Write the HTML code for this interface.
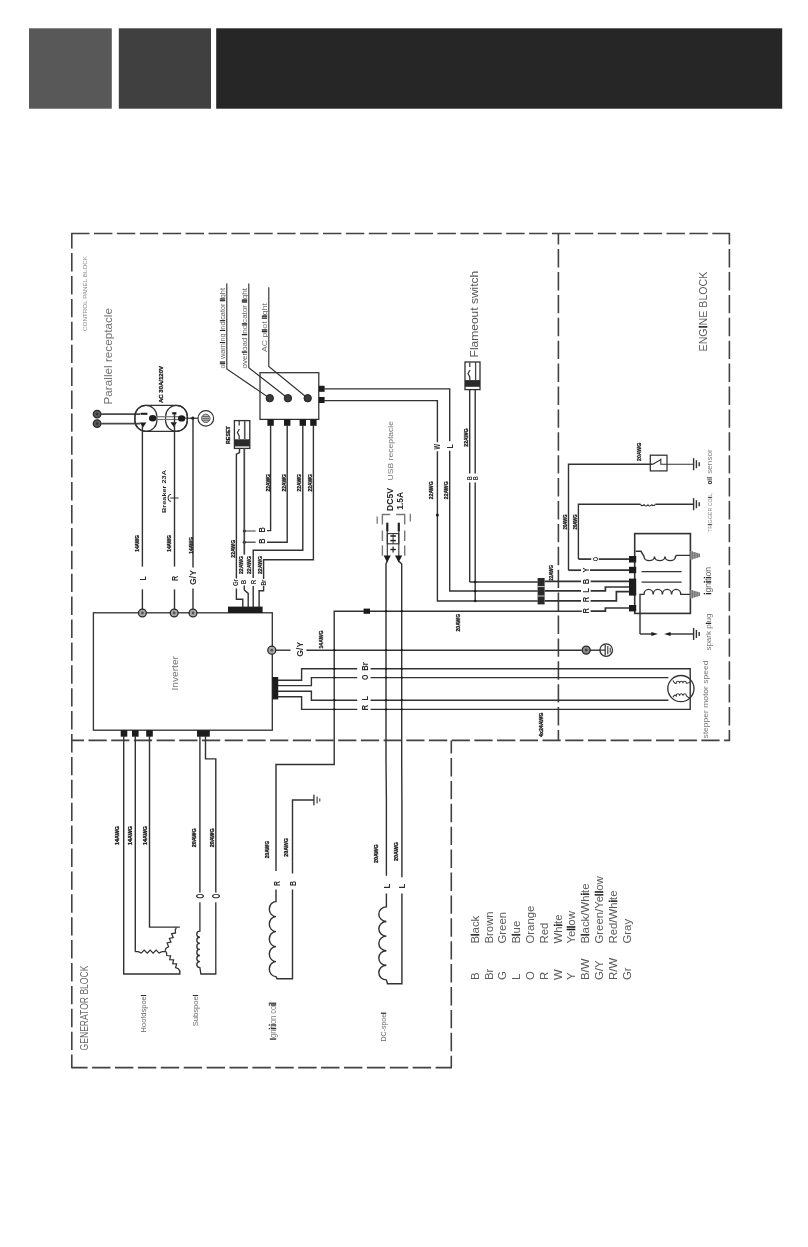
<!DOCTYPE html>
<html><head><meta charset="utf-8"><title>Wiring diagram</title>
<style>
html,body{margin:0;padding:0;background:#fff}
body{width:808px;height:1247px;overflow:hidden;font-family:"Liberation Sans",sans-serif}
svg{display:block;font-family:"Liberation Sans",sans-serif}
</style></head><body>
<svg width="808" height="1247" viewBox="0 0 808 1247">
<defs><filter id="bl" x="0" y="0" width="808" height="1247" filterUnits="userSpaceOnUse"><feGaussianBlur stdDeviation="0.5"/></filter></defs>
<rect width="808" height="1247" fill="#ffffff"/>
<rect x="29.0" y="28.3" width="82.8" height="80.4" fill="#585858"/>
<rect x="118.8" y="28.3" width="92.2" height="80.4" fill="#404040"/>
<rect x="216.2" y="28.3" width="566.0" height="80.4" fill="#262626"/>
<g filter="url(#bl)">
<polyline points="71.1,233.5 730.1,233.5" fill="none" stroke="#424242" stroke-width="1.6" stroke-dasharray="18.4 4.5" stroke-dashoffset="0"/>
<polyline points="71.8,233.5 71.8,1068.3" fill="none" stroke="#424242" stroke-width="1.6" stroke-dasharray="18.4 4.5" stroke-dashoffset="3.3"/>
<polyline points="71.8,740.4 730.1,740.4" fill="none" stroke="#424242" stroke-width="1.6" stroke-dasharray="18.2 4.5" stroke-dashoffset="6"/>
<polyline points="71.8,1067.6 452.0,1067.6" fill="none" stroke="#424242" stroke-width="1.6" stroke-dasharray="18.4 4.5" stroke-dashoffset="2.6"/>
<polyline points="451.3,740.4 451.3,1067.6" fill="none" stroke="#424242" stroke-width="1.6" stroke-dasharray="18.4 4.5" stroke-dashoffset="5.3"/>
<polyline points="558.4,233.5 558.4,740.4" fill="none" stroke="#424242" stroke-width="1.6" stroke-dasharray="18.4 4.5" stroke-dashoffset="7.3"/>
<polyline points="729.4,233.5 729.4,740.4" fill="none" stroke="#424242" stroke-width="1.6" stroke-dasharray="18.4 4.5" stroke-dashoffset="7.3"/>
<text transform="translate(87.0,331.0) rotate(-90)" font-size="4.6" fill="#8a8a8a" textLength="75.0" lengthAdjust="spacingAndGlyphs" text-anchor="start">CONTROL PANEL BLOCK</text>
<text transform="translate(112.3,404.5) rotate(-90)" font-size="10.6" fill="#707070" textLength="96.5" lengthAdjust="spacingAndGlyphs" text-anchor="start">Parallel receptacle</text>
<text transform="translate(478.0,357.4) rotate(-90)" font-size="11" fill="#555" textLength="86.6" lengthAdjust="spacingAndGlyphs" text-anchor="start">Flameout switch</text>
<text transform="translate(707.3,351.4) rotate(-90)" font-size="10" fill="#5c5c5c" textLength="79.8" lengthAdjust="spacingAndGlyphs" text-anchor="start">ENG<tspan fill="#151515" stroke="#151515" stroke-width="0.5">I</tspan>NE BLOCK</text>
<text transform="translate(88.4,1050.4) rotate(-90)" font-size="10.2" fill="#666" textLength="84.8" lengthAdjust="spacingAndGlyphs" text-anchor="start">GENERATOR BLOCK</text>
<text transform="translate(177.5,690.6) rotate(-90)" font-size="9.6" fill="#777" textLength="34.6" lengthAdjust="spacingAndGlyphs" text-anchor="start">Inverter</text>
<circle cx="97.1" cy="414.1" r="3.8" fill="#5a5a5a" stroke="#2a2a2a" stroke-width="1.3"/>
<circle cx="97.1" cy="414.1" r="1.3" fill="#333" stroke="none" stroke-width="0"/>
<circle cx="97.1" cy="423.6" r="3.8" fill="#5a5a5a" stroke="#2a2a2a" stroke-width="1.3"/>
<circle cx="97.1" cy="423.6" r="1.3" fill="#333" stroke="none" stroke-width="0"/>
<line x1="100.5" y1="414.1" x2="140.0" y2="414.1" stroke="#4a4a4a" stroke-width="1.8" />
<line x1="100.5" y1="423.6" x2="140.0" y2="423.6" stroke="#4a4a4a" stroke-width="1.8" />
<rect x="134.9" y="405.4" width="52.4" height="26.0" rx="11" fill="none" stroke="#303030" stroke-width="1.2"/>
<rect x="134.9" y="405.4" width="22.0" height="26.0" rx="11" fill="none" stroke="#303030" stroke-width="1.2"/>
<rect x="165.6" y="405.4" width="21.7" height="26.0" rx="11" fill="none" stroke="#303030" stroke-width="1.2"/>
<line x1="152.0" y1="416.7" x2="182.0" y2="416.7" stroke="#777" stroke-width="1.2" />
<line x1="152.0" y1="419.5" x2="182.0" y2="419.5" stroke="#777" stroke-width="1.2" />
<rect x="140.5" y="412.8" width="6.9" height="2.0" fill="#1c1c1c"/>
<ellipse cx="152.6" cy="418.2" rx="3.6" ry="3.2" fill="#1c1c1c"/>
<polygon points="139.6,422.6 146.4,422.6 143,427.6" fill="#1c1c1c"/>
<rect x="172.2" y="412.2" width="4.2" height="2.2" fill="#1c1c1c"/>
<ellipse cx="181.6" cy="418.4" rx="3.6" ry="3.2" fill="#1c1c1c"/>
<polygon points="170.4,422.2 177,422.2 173.8,427" fill="#1c1c1c"/>
<line x1="185.0" y1="418.2" x2="198.0" y2="418.2" stroke="#303030" stroke-width="1.2" />
<circle cx="192.8" cy="418.2" r="1.6" fill="#1c1c1c" stroke="none" stroke-width="0"/>
<circle cx="205.8" cy="418.4" r="7.8" fill="none" stroke="#303030" stroke-width="1.2"/>
<circle cx="205.8" cy="418.4" r="4.2" fill="#bbb" stroke="#555" stroke-width="1"/>
<line x1="202.5" y1="416.5" x2="209.0" y2="416.5" stroke="#444" stroke-width="0.7" />
<line x1="202.5" y1="418.4" x2="209.0" y2="418.4" stroke="#444" stroke-width="0.7" />
<line x1="202.5" y1="420.3" x2="209.0" y2="420.3" stroke="#444" stroke-width="0.7" />
<text transform="translate(162.8,403.0) rotate(-90)" font-size="5.4" fill="#222" font-weight="700" textLength="37.0" lengthAdjust="spacingAndGlyphs" stroke="#222" stroke-width="0.3" text-anchor="start">AC 30A/120V</text>
<text transform="translate(166.4,513.0) rotate(-90)" font-size="6" fill="#222" font-weight="700" textLength="43.0" lengthAdjust="spacingAndGlyphs" text-anchor="start">Breaker 23A</text>
<line x1="142.4" y1="426.0" x2="142.4" y2="566.6" stroke="#303030" stroke-width="1.4" />
<line x1="142.4" y1="589.4" x2="142.4" y2="609.5" stroke="#303030" stroke-width="1.4" />
<line x1="174.5" y1="414.0" x2="174.5" y2="566.6" stroke="#303030" stroke-width="1.4" />
<line x1="174.5" y1="589.4" x2="174.5" y2="609.5" stroke="#303030" stroke-width="1.4" />
<line x1="193.0" y1="418.2" x2="193.0" y2="567.6" stroke="#303030" stroke-width="1.4" />
<line x1="193.0" y1="588.4" x2="193.0" y2="609.5" stroke="#303030" stroke-width="1.4" />
<path d="M171.2,501.5 a3.2,3.6 0 0 1 0,-7.2" fill="none" stroke="#2a2a2a" stroke-width="1"/>
<line x1="170.2" y1="498.0" x2="178.5" y2="498.0" stroke="#303030" stroke-width="1" />
<text transform="translate(139.2,551.7) rotate(-90)" font-size="4.9" fill="#222" font-weight="700" textLength="16.7" lengthAdjust="spacingAndGlyphs" stroke="#222" stroke-width="0.3" text-anchor="start">14AWG</text>
<text transform="translate(170.9,551.7) rotate(-90)" font-size="4.9" fill="#222" font-weight="700" textLength="16.7" lengthAdjust="spacingAndGlyphs" stroke="#222" stroke-width="0.3" text-anchor="start">14AWG</text>
<text transform="translate(193.2,553.7) rotate(-90)" font-size="4.9" fill="#222" font-weight="700" textLength="16.8" lengthAdjust="spacingAndGlyphs" stroke="#222" stroke-width="0.3" text-anchor="start">14AWG</text>
<text transform="translate(145.8,578.5) rotate(-90) scale(0.8,1)" font-size="8.6" fill="#2e2e2e" font-weight="700" text-anchor="middle">L</text>
<text transform="translate(177.8,578.5) rotate(-90) scale(0.8,1)" font-size="9" fill="#2e2e2e" font-weight="700" text-anchor="middle">R</text>
<text transform="translate(196.3,577.5) rotate(-90) scale(0.9,1)" font-size="9.6" fill="#2e2e2e" font-weight="700" text-anchor="middle">G/Y</text>
<rect x="93.4" y="612.8" width="178.9" height="117.4" rx="0" fill="none" stroke="#303030" stroke-width="1.3"/>
<circle cx="142.4" cy="613.0" r="3.9" fill="#a8a8a8" stroke="#2a2a2a" stroke-width="1.3"/>
<circle cx="142.4" cy="613.0" r="1.4" fill="#555" stroke="none" stroke-width="0"/>
<circle cx="174.2" cy="613.0" r="3.9" fill="#a8a8a8" stroke="#2a2a2a" stroke-width="1.3"/>
<circle cx="174.2" cy="613.0" r="1.4" fill="#555" stroke="none" stroke-width="0"/>
<circle cx="193.0" cy="613.0" r="3.9" fill="#a8a8a8" stroke="#2a2a2a" stroke-width="1.3"/>
<circle cx="193.0" cy="613.0" r="1.4" fill="#555" stroke="none" stroke-width="0"/>
<rect x="228.0" y="606.6" width="34.6" height="6.4" fill="#1c1c1c"/>
<rect x="120.7" y="730.2" width="6.6" height="6.5" fill="#1c1c1c"/>
<rect x="132.0" y="730.2" width="6.6" height="6.5" fill="#1c1c1c"/>
<rect x="146.2" y="730.2" width="6.6" height="6.5" fill="#1c1c1c"/>
<rect x="197.0" y="730.2" width="12.8" height="6.5" fill="#1c1c1c"/>
<circle cx="271.8" cy="650.2" r="4" fill="#a8a8a8" stroke="#2a2a2a" stroke-width="1.3"/>
<circle cx="271.8" cy="650.2" r="1.4" fill="#555" stroke="none" stroke-width="0"/>
<line x1="275.8" y1="650.2" x2="290.5" y2="650.2" stroke="#303030" stroke-width="1.4" />
<text transform="translate(302.6,649.2) rotate(-90) scale(0.9,1)" font-size="9.6" fill="#2e2e2e" font-weight="700" text-anchor="middle">G/Y</text>
<line x1="306.4" y1="650.2" x2="581.8" y2="650.2" stroke="#303030" stroke-width="1.4" />
<text transform="translate(323.4,648.5) rotate(-90)" font-size="4.9" fill="#222" font-weight="700" textLength="18.0" lengthAdjust="spacingAndGlyphs" stroke="#222" stroke-width="0.3" text-anchor="start">14AWG</text>
<rect x="272.3" y="677.0" width="5.9" height="22.4" fill="#1c1c1c"/>
<rect x="260.0" y="372.7" width="58.8" height="46.7" rx="0" fill="none" stroke="#303030" stroke-width="1.25"/>
<polyline points="226.8,283.6 226.8,369.0 269.8,398.2" fill="none" stroke="#303030" stroke-width="1.15" />
<circle cx="269.8" cy="398.2" r="3.7" fill="#3a3a3a" stroke="#222" stroke-width="1"/>
<polyline points="248.8,283.6 248.8,367.8 287.9,398.2" fill="none" stroke="#303030" stroke-width="1.15" />
<circle cx="287.9" cy="398.2" r="3.7" fill="#3a3a3a" stroke="#222" stroke-width="1"/>
<polyline points="268.8,287.3 268.8,366.5 307.7,398.2" fill="none" stroke="#303030" stroke-width="1.15" />
<circle cx="307.7" cy="398.2" r="3.7" fill="#3a3a3a" stroke="#222" stroke-width="1"/>
<text transform="translate(224.6,368.5) rotate(-90)" font-size="6.3" fill="#666" textLength="80.5" lengthAdjust="spacingAndGlyphs" text-anchor="start">o<tspan fill="#151515" stroke="#151515" stroke-width="0.315">i</tspan><tspan fill="#151515" stroke="#151515" stroke-width="0.315">l</tspan> warn<tspan fill="#151515" stroke="#151515" stroke-width="0.315">i</tspan>ng <tspan fill="#151515" stroke="#151515" stroke-width="0.315">i</tspan>nd<tspan fill="#151515" stroke="#151515" stroke-width="0.315">i</tspan>cator <tspan fill="#151515" stroke="#151515" stroke-width="0.315">l</tspan><tspan fill="#151515" stroke="#151515" stroke-width="0.315">i</tspan>ght</text>
<text transform="translate(246.8,368.5) rotate(-90)" font-size="6.6" fill="#666" textLength="80.5" lengthAdjust="spacingAndGlyphs" text-anchor="start">over<tspan fill="#151515" stroke="#151515" stroke-width="0.33">l</tspan>oad <tspan fill="#151515" stroke="#151515" stroke-width="0.33">i</tspan>nd<tspan fill="#151515" stroke="#151515" stroke-width="0.33">i</tspan>cator <tspan fill="#151515" stroke="#151515" stroke-width="0.33">l</tspan><tspan fill="#151515" stroke="#151515" stroke-width="0.33">i</tspan>ght</text>
<text transform="translate(266.6,352.0) rotate(-90)" font-size="6.8" fill="#707070" textLength="49.0" lengthAdjust="spacingAndGlyphs" text-anchor="start">AC p<tspan fill="#151515" stroke="#151515" stroke-width="0.34">i</tspan><tspan fill="#151515" stroke="#151515" stroke-width="0.34">l</tspan>ot <tspan fill="#151515" stroke="#151515" stroke-width="0.34">l</tspan><tspan fill="#151515" stroke="#151515" stroke-width="0.34">i</tspan>ght</text>
<rect x="318.8" y="385.8" width="5.8" height="6.0" fill="#1c1c1c"/>
<rect x="318.8" y="397.0" width="5.8" height="6.0" fill="#1c1c1c"/>
<rect x="267.4" y="419.4" width="6.4" height="6.4" fill="#1c1c1c"/>
<rect x="284.0" y="419.4" width="6.4" height="6.4" fill="#1c1c1c"/>
<rect x="299.6" y="419.4" width="6.4" height="6.4" fill="#1c1c1c"/>
<rect x="310.2" y="419.4" width="6.4" height="6.4" fill="#1c1c1c"/>
<polyline points="270.6,425.0 270.6,530.6 267.0,530.6" fill="none" stroke="#303030" stroke-width="1.4" />
<polyline points="287.2,425.0 287.2,542.2 267.0,542.2" fill="none" stroke="#303030" stroke-width="1.4" />
<polyline points="302.8,425.0 302.8,550.2 253.2,550.2 253.2,578.0" fill="none" stroke="#303030" stroke-width="1.4" />
<polyline points="313.4,425.0 313.4,559.7 263.6,559.7 263.6,579.0" fill="none" stroke="#303030" stroke-width="1.4" />
<text transform="translate(270.0,491.5) rotate(-90)" font-size="4.9" fill="#222" font-weight="700" textLength="17.5" lengthAdjust="spacingAndGlyphs" stroke="#222" stroke-width="0.3" text-anchor="start">22AWG</text>
<text transform="translate(286.0,491.5) rotate(-90)" font-size="4.9" fill="#222" font-weight="700" textLength="17.5" lengthAdjust="spacingAndGlyphs" stroke="#222" stroke-width="0.3" text-anchor="start">22AWG</text>
<text transform="translate(301.0,491.5) rotate(-90)" font-size="4.9" fill="#222" font-weight="700" textLength="17.5" lengthAdjust="spacingAndGlyphs" stroke="#222" stroke-width="0.3" text-anchor="start">22AWG</text>
<text transform="translate(312.0,491.5) rotate(-90)" font-size="4.9" fill="#222" font-weight="700" textLength="17.5" lengthAdjust="spacingAndGlyphs" stroke="#222" stroke-width="0.3" text-anchor="start">22AWG</text>
<line x1="244.3" y1="531.0" x2="255.6" y2="531.0" stroke="#666" stroke-width="1.3" />
<line x1="244.3" y1="542.2" x2="255.6" y2="542.2" stroke="#444" stroke-width="1.3" />
<circle cx="244.3" cy="531.0" r="1.5" fill="#1c1c1c" stroke="none" stroke-width="0"/>
<circle cx="244.3" cy="542.2" r="1.5" fill="#1c1c1c" stroke="none" stroke-width="0"/>
<text transform="translate(265.3,529.8) rotate(-90) scale(0.78,1)" font-size="9.4" fill="#2e2e2e" font-weight="700" text-anchor="middle">B</text>
<text transform="translate(265.3,541.2) rotate(-90) scale(0.78,1)" font-size="9.4" fill="#2e2e2e" font-weight="700" text-anchor="middle">B</text>
<rect x="234.4" y="420.6" width="15.4" height="27.8" rx="0" fill="none" stroke="#303030" stroke-width="1.3"/>
<rect x="234.4" y="439.3" width="15.4" height="7.1" fill="#2a2a2a"/>
<line x1="244.7" y1="420.6" x2="244.7" y2="439.3" stroke="#555" stroke-width="1.6" />
<line x1="239.2" y1="421.0" x2="239.2" y2="425.5" stroke="#303030" stroke-width="1.2" />
<polyline points="239.4,429.0 237.4,432.5 239.2,436.0 239.2,439.0" fill="none" stroke="#303030" stroke-width="1.2" />
<text transform="translate(230.0,444.0) rotate(-90)" font-size="5.3" fill="#222" font-weight="700" textLength="17.8" lengthAdjust="spacingAndGlyphs" stroke="#222" stroke-width="0.3" text-anchor="start">RESET</text>
<polyline points="239.5,448.4 239.5,452.6 236.4,454.2 236.4,578.5" fill="none" stroke="#303030" stroke-width="1.4" />
<line x1="244.3" y1="448.4" x2="244.3" y2="554.7" stroke="#444" stroke-width="1.7" />
<text transform="translate(235.0,557.7) rotate(-90)" font-size="4.9" fill="#222" font-weight="700" textLength="17.8" lengthAdjust="spacingAndGlyphs" stroke="#222" stroke-width="0.3" text-anchor="start">22AWG</text>
<text transform="translate(243.1,574.0) rotate(-90)" font-size="4.9" fill="#222" font-weight="700" textLength="18.0" lengthAdjust="spacingAndGlyphs" stroke="#222" stroke-width="0.3" text-anchor="start">22AWG</text>
<text transform="translate(250.5,574.0) rotate(-90)" font-size="4.9" fill="#222" font-weight="700" textLength="18.0" lengthAdjust="spacingAndGlyphs" stroke="#222" stroke-width="0.3" text-anchor="start">22AWG</text>
<text transform="translate(262.0,574.0) rotate(-90)" font-size="4.9" fill="#222" font-weight="700" textLength="18.0" lengthAdjust="spacingAndGlyphs" stroke="#222" stroke-width="0.3" text-anchor="start">22AWG</text>
<text transform="translate(238.2,582.6) rotate(-90) scale(0.9,1)" font-size="6.6" fill="#2e2e2e" font-weight="700" text-anchor="middle">Gr</text>
<text transform="translate(246.2,582.0) rotate(-90) scale(0.9,1)" font-size="6.8" fill="#2e2e2e" font-weight="700" text-anchor="middle">B</text>
<text transform="translate(255.6,582.0) rotate(-90) scale(0.9,1)" font-size="6.8" fill="#2e2e2e" font-weight="700" text-anchor="middle">R</text>
<text transform="translate(265.6,582.6) rotate(-90) scale(0.85,1)" font-size="6.4" fill="#2e2e2e" font-weight="700" text-anchor="middle">Br</text>
<polyline points="236.4,588.4 236.4,599.3 242.8,599.3 242.8,607.5" fill="none" stroke="#303030" stroke-width="1.4" />
<polyline points="244.3,585.6 244.3,590.0 248.2,593.4 248.2,607.5" fill="none" stroke="#303030" stroke-width="1.4" />
<line x1="253.2" y1="586.0" x2="253.2" y2="607.5" stroke="#303030" stroke-width="1.4" />
<polyline points="263.6,586.0 263.6,590.8 259.1,590.8 259.1,607.5" fill="none" stroke="#303030" stroke-width="1.4" />
<polyline points="324.0,400.6 437.4,400.6 437.4,442.3" fill="none" stroke="#303030" stroke-width="1.4" />
<polyline points="437.4,451.2 437.4,601.0 537.8,601.0" fill="none" stroke="#303030" stroke-width="1.4" />
<polyline points="324.0,388.9 449.7,388.9 449.7,441.3" fill="none" stroke="#303030" stroke-width="1.4" />
<polyline points="449.7,450.7 449.7,591.0 537.8,591.0" fill="none" stroke="#303030" stroke-width="1.4" />
<text transform="translate(440.3,446.8) rotate(-90) scale(0.66,1)" font-size="8.8" fill="#2e2e2e" font-weight="700" text-anchor="middle">W</text>
<text transform="translate(452.6,446.4) rotate(-90) scale(0.8,1)" font-size="8.8" fill="#2e2e2e" font-weight="700" text-anchor="middle">L</text>
<circle cx="437.4" cy="515.0" r="1.5" fill="#1c1c1c" stroke="none" stroke-width="0"/>
<text transform="translate(433.3,499.2) rotate(-90)" font-size="4.9" fill="#222" font-weight="700" textLength="17.8" lengthAdjust="spacingAndGlyphs" stroke="#222" stroke-width="0.3" text-anchor="start">22AWG</text>
<text transform="translate(448.1,499.2) rotate(-90)" font-size="4.9" fill="#222" font-weight="700" textLength="17.8" lengthAdjust="spacingAndGlyphs" stroke="#222" stroke-width="0.3" text-anchor="start">22AWG</text>
<rect x="465.0" y="362.0" width="15.0" height="27.6" rx="0" fill="none" stroke="#303030" stroke-width="1.3"/>
<rect x="465.0" y="380.1" width="15.0" height="6.7" fill="#2a2a2a"/>
<line x1="475.6" y1="362.0" x2="475.6" y2="380.0" stroke="#444" stroke-width="1.3" />
<line x1="469.8" y1="362.5" x2="469.8" y2="367.0" stroke="#303030" stroke-width="1.2" />
<polyline points="470.0,370.0 468.0,373.5 469.8,377.0 469.8,380.0" fill="none" stroke="#303030" stroke-width="1.2" />
<line x1="469.7" y1="389.6" x2="469.7" y2="473.4" stroke="#303030" stroke-width="1.4" />
<line x1="469.7" y1="482.6" x2="469.7" y2="582.0" stroke="#303030" stroke-width="1.4" />
<line x1="475.2" y1="389.6" x2="475.2" y2="473.4" stroke="#303030" stroke-width="1.4" />
<line x1="475.2" y1="482.6" x2="475.2" y2="601.0" stroke="#303030" stroke-width="1.4" />
<line x1="469.7" y1="582.0" x2="537.8" y2="582.0" stroke="#303030" stroke-width="1.4" />
<text transform="translate(468.4,446.7) rotate(-90)" font-size="4.9" fill="#222" font-weight="700" textLength="18.3" lengthAdjust="spacingAndGlyphs" stroke="#222" stroke-width="0.3" text-anchor="start">22AWG</text>
<text transform="translate(472.0,478.2) rotate(-90) scale(0.8,1)" font-size="6.6" fill="#2e2e2e" font-weight="700" text-anchor="middle">B</text>
<text transform="translate(478.2,478.2) rotate(-90) scale(0.8,1)" font-size="6.6" fill="#2e2e2e" font-weight="700" text-anchor="middle">B</text>
<circle cx="475.2" cy="582.0" r="1.25" fill="#1c1c1c" stroke="none" stroke-width="0"/>
<circle cx="475.2" cy="591.0" r="1.25" fill="#1c1c1c" stroke="none" stroke-width="0"/>
<circle cx="475.2" cy="601.0" r="1.25" fill="#1c1c1c" stroke="none" stroke-width="0"/>
<rect x="537.6" y="578.0" width="7.0" height="26.4" fill="#2a2a2a"/>
<line x1="537.6" y1="586.6" x2="544.6" y2="586.6" stroke="#ddd" stroke-width="0.9" />
<line x1="537.6" y1="596.0" x2="544.6" y2="596.0" stroke="#ddd" stroke-width="0.9" />
<text transform="translate(552.6,580.8) rotate(-90)" font-size="4.6" fill="#222" font-weight="700" textLength="15.8" lengthAdjust="spacingAndGlyphs" stroke="#222" stroke-width="0.3" text-anchor="start">22AWG</text>
<text transform="translate(393.0,480.4) rotate(-90)" font-size="7.4" fill="#777" textLength="59.4" lengthAdjust="spacingAndGlyphs" text-anchor="start">USB receptacle</text>
<text transform="translate(392.8,511.0) rotate(-90)" font-size="8.6" fill="#222" font-weight="700" textLength="23.0" lengthAdjust="spacingAndGlyphs" text-anchor="start">DC5V</text>
<text transform="translate(402.8,509.8) rotate(-90)" font-size="8.4" fill="#222" font-weight="700" textLength="17.8" lengthAdjust="spacingAndGlyphs" text-anchor="start">1.5A</text>
<polyline points="390.2,514.5 382.4,514.5 382.4,524.5" fill="none" stroke="#777" stroke-width="1.4" />
<polyline points="396.2,514.5 404.7,514.5 404.7,524.5" fill="none" stroke="#777" stroke-width="1.4" />
<line x1="382.4" y1="530.5" x2="382.4" y2="541.0" stroke="#777" stroke-width="1.4" />
<line x1="382.4" y1="545.4" x2="382.4" y2="555.7" stroke="#777" stroke-width="1.4" />
<line x1="404.7" y1="530.5" x2="404.7" y2="541.0" stroke="#777" stroke-width="1.4" />
<line x1="404.7" y1="545.4" x2="404.7" y2="555.7" stroke="#777" stroke-width="1.4" />
<line x1="377.2" y1="516.4" x2="377.2" y2="523.8" stroke="#777" stroke-width="1.3" />
<line x1="410.3" y1="513.8" x2="410.3" y2="521.6" stroke="#777" stroke-width="1.3" />
<line x1="387.3" y1="522.7" x2="387.3" y2="531.4" stroke="#222" stroke-width="2.2" />
<line x1="398.8" y1="522.7" x2="398.8" y2="531.4" stroke="#222" stroke-width="2.2" />
<line x1="387.3" y1="531.0" x2="387.3" y2="556.0" stroke="#303030" stroke-width="1.1" />
<line x1="398.8" y1="531.0" x2="398.8" y2="556.0" stroke="#303030" stroke-width="1.1" />
<rect x="387.3" y="533.6" width="11.5" height="10.2" rx="0" fill="none" stroke="#303030" stroke-width="1.1"/>
<line x1="390.4" y1="536.0" x2="395.8" y2="536.0" stroke="#222" stroke-width="1.6" />
<line x1="390.4" y1="540.6" x2="395.8" y2="540.6" stroke="#222" stroke-width="1.6" />
<line x1="393.1" y1="533.6" x2="393.1" y2="543.8" stroke="#303030" stroke-width="1" />
<line x1="390.4" y1="549.5" x2="395.8" y2="549.5" stroke="#222" stroke-width="1.4" />
<line x1="393.1" y1="546.4" x2="393.1" y2="552.6" stroke="#222" stroke-width="1.2" />
<polygon points="383.6,555.4 390.8,555.4 387.2,562.4" fill="#1c1c1c"/>
<polygon points="395,555.4 402.2,555.4 398.6,562.4" fill="#1c1c1c"/>
<polyline points="387.2,561.0 386.0,564.0 386.0,760.0 386.4,800.0 386.4,875.7" fill="none" stroke="#303030" stroke-width="1.4" />
<polyline points="398.6,561.0 401.7,564.0 401.7,760.0 401.9,800.0 401.9,877.2" fill="none" stroke="#303030" stroke-width="1.4" />
<text transform="translate(389.7,886.2) rotate(-90) scale(0.8,1)" font-size="9.8" fill="#2e2e2e" font-weight="700" text-anchor="middle">L</text>
<text transform="translate(405.4,886.2) rotate(-90) scale(0.8,1)" font-size="9.8" fill="#2e2e2e" font-weight="700" text-anchor="middle">L</text>
<path d="M386.4,893.6 V906.9 a7.6,7.3 0 0 0 0,14.6 a7.6,7.3 0 0 0 0,14.6 a7.6,7.3 0 0 0 0,14.6 a7.6,7.3 0 0 0 0,14.6 a7.6,7.3 0 0 0 0,14.6 L387.5,983.7 H401.9 V893.6" fill="none" stroke="#303030" stroke-width="1.4"/>
<polyline points="276.0,870.9 276.0,764.5 334.2,764.5 334.2,611.2 581.8,611.2" fill="none" stroke="#303030" stroke-width="1.4" />
<rect x="363.6" y="608.6" width="6.4" height="5.2" fill="#1c1c1c"/>
<text transform="translate(459.8,631.4) rotate(-90)" font-size="4.9" fill="#222" font-weight="700" textLength="17.4" lengthAdjust="spacingAndGlyphs" stroke="#222" stroke-width="0.3" text-anchor="start">20AWG</text>
<polyline points="278.0,680.2 301.6,680.2 301.6,668.8 357.2,668.8" fill="none" stroke="#303030" stroke-width="1.4" />
<polyline points="278.0,685.6 311.4,685.6 311.4,677.6 357.2,677.6" fill="none" stroke="#303030" stroke-width="1.4" />
<polyline points="278.0,691.2 311.4,691.2 311.4,700.2 357.2,700.2" fill="none" stroke="#303030" stroke-width="1.4" />
<polyline points="278.0,696.8 301.6,696.8 301.6,709.4 357.2,709.4" fill="none" stroke="#303030" stroke-width="1.4" />
<text transform="translate(368.1,670.8) rotate(-90) scale(0.8,1)" font-size="9.6" fill="#2e2e2e" font-weight="700" text-anchor="start">Br</text>
<text transform="translate(368.1,677.4) rotate(-90) scale(0.72,1)" font-size="9.6" fill="#2e2e2e" font-weight="700" text-anchor="middle">O</text>
<text transform="translate(368.1,698.4) rotate(-90) scale(0.75,1)" font-size="9.6" fill="#2e2e2e" font-weight="700" text-anchor="middle">L</text>
<text transform="translate(368.1,707.8) rotate(-90) scale(0.8,1)" font-size="9.6" fill="#2e2e2e" font-weight="700" text-anchor="middle">R</text>
<polyline points="370.6,668.8 690.2,668.8 690.2,709.4 370.6,709.4" fill="none" stroke="#303030" stroke-width="1.4" />
<line x1="370.6" y1="677.6" x2="668.4" y2="677.6" stroke="#303030" stroke-width="1.4" />
<line x1="370.6" y1="700.2" x2="668.4" y2="700.2" stroke="#303030" stroke-width="1.4" />
<circle cx="334.4" cy="668.8" r="1.1" fill="#1c1c1c" stroke="none" stroke-width="0"/>
<circle cx="334.4" cy="677.6" r="1.1" fill="#1c1c1c" stroke="none" stroke-width="0"/>
<circle cx="334.4" cy="700.2" r="1.1" fill="#1c1c1c" stroke="none" stroke-width="0"/>
<circle cx="334.4" cy="709.4" r="1.1" fill="#1c1c1c" stroke="none" stroke-width="0"/>
<circle cx="334.4" cy="650.2" r="1.1" fill="#1c1c1c" stroke="none" stroke-width="0"/>
<circle cx="386.0" cy="611.2" r="1.1" fill="#1c1c1c" stroke="none" stroke-width="0"/>
<circle cx="386.0" cy="650.2" r="1.1" fill="#1c1c1c" stroke="none" stroke-width="0"/>
<circle cx="386.0" cy="668.8" r="1.1" fill="#1c1c1c" stroke="none" stroke-width="0"/>
<circle cx="386.0" cy="677.6" r="1.1" fill="#1c1c1c" stroke="none" stroke-width="0"/>
<circle cx="386.0" cy="700.2" r="1.1" fill="#1c1c1c" stroke="none" stroke-width="0"/>
<circle cx="386.0" cy="709.4" r="1.1" fill="#1c1c1c" stroke="none" stroke-width="0"/>
<circle cx="401.7" cy="611.2" r="1.1" fill="#1c1c1c" stroke="none" stroke-width="0"/>
<circle cx="401.7" cy="650.2" r="1.1" fill="#1c1c1c" stroke="none" stroke-width="0"/>
<circle cx="401.7" cy="668.8" r="1.1" fill="#1c1c1c" stroke="none" stroke-width="0"/>
<circle cx="401.7" cy="677.6" r="1.1" fill="#1c1c1c" stroke="none" stroke-width="0"/>
<circle cx="401.7" cy="700.2" r="1.1" fill="#1c1c1c" stroke="none" stroke-width="0"/>
<circle cx="401.7" cy="709.4" r="1.1" fill="#1c1c1c" stroke="none" stroke-width="0"/>
<text transform="translate(542.8,737.0) rotate(-90)" font-size="4.9" fill="#222" font-weight="700" textLength="24.4" lengthAdjust="spacingAndGlyphs" stroke="#222" stroke-width="0.3" text-anchor="start">4x24AWG</text>
<polyline points="568.5,570.2 568.5,464.2 652.8,464.2" fill="none" stroke="#303030" stroke-width="1.4" />
<rect x="650.3" y="455.2" width="16.7" height="15.7" rx="0" fill="none" stroke="#303030" stroke-width="1.25"/>
<polyline points="652.8,464.2 661.0,459.6" fill="none" stroke="#303030" stroke-width="1.1" />
<polyline points="660.8,458.4 660.8,464.2 693.6,464.2" fill="none" stroke="#303030" stroke-width="1.1" />
<line x1="693.6" y1="458.2" x2="693.6" y2="470.2" stroke="#303030" stroke-width="1.4" />
<line x1="696.4" y1="460.2" x2="696.4" y2="468.2" stroke="#303030" stroke-width="1.4" />
<line x1="699.2" y1="462.2" x2="699.2" y2="466.2" stroke="#303030" stroke-width="1.4" />
<text transform="translate(641.4,461.0) rotate(-90)" font-size="4.9" fill="#222" font-weight="700" textLength="18.2" lengthAdjust="spacingAndGlyphs" stroke="#222" stroke-width="0.3" text-anchor="start">20AWG</text>
<text transform="translate(711.6,484.6) rotate(-90)" font-size="6.6" fill="#222" font-weight="700" textLength="7.6" lengthAdjust="spacingAndGlyphs" text-anchor="start">oil</text>
<text transform="translate(711.6,473.8) rotate(-90)" font-size="6.6" fill="#808080" textLength="24.6" lengthAdjust="spacingAndGlyphs" text-anchor="start">sensor</text>
<polyline points="578.4,559.1 578.4,504.2 640.4,504.2" fill="none" stroke="#303030" stroke-width="1.4" />
<path d="M640.4,504.2 q1.2,2.6 3.7,0.6 q1.3,2.4 3.8,0 q1.3,2.4 3.8,0 q2.4,1.8 3.7,-0.6" fill="none" stroke="#2a2a2a" stroke-width="1.1"/>
<line x1="655.4" y1="504.2" x2="693.6" y2="504.2" stroke="#303030" stroke-width="1.4" />
<line x1="693.6" y1="498.2" x2="693.6" y2="510.2" stroke="#303030" stroke-width="1.4" />
<line x1="696.4" y1="500.2" x2="696.4" y2="508.2" stroke="#303030" stroke-width="1.4" />
<line x1="699.2" y1="502.2" x2="699.2" y2="506.2" stroke="#303030" stroke-width="1.4" />
<text transform="translate(711.6,532.0) rotate(-90)" font-size="5.6" fill="#8c8c8c" textLength="39.6" lengthAdjust="spacingAndGlyphs" text-anchor="start">TR<tspan fill="#151515" stroke="#151515" stroke-width="0.27999999999999997">I</tspan>GGER CO<tspan fill="#151515" stroke="#151515" stroke-width="0.27999999999999997">I</tspan>L,</text>
<text transform="translate(566.6,529.4) rotate(-90)" font-size="4.6" fill="#222" font-weight="700" textLength="15.0" lengthAdjust="spacingAndGlyphs" stroke="#222" stroke-width="0.3" text-anchor="start">20AWG</text>
<text transform="translate(577.0,529.4) rotate(-90)" font-size="4.6" fill="#222" font-weight="700" textLength="15.0" lengthAdjust="spacingAndGlyphs" stroke="#222" stroke-width="0.3" text-anchor="start">20AWG</text>
<rect x="634.7" y="533.6" width="55.7" height="79.8" rx="0" fill="none" stroke="#303030" stroke-width="1.6"/>
<rect x="629.0" y="556.0" width="7.2" height="6.5" fill="#1c1c1c"/>
<rect x="629.0" y="566.8" width="7.2" height="6.4" fill="#1c1c1c"/>
<rect x="629.0" y="578.6" width="7.2" height="17.0" fill="#1c1c1c"/>
<rect x="629.0" y="605.0" width="7.2" height="6.4" fill="#1c1c1c"/>
<line x1="578.4" y1="559.1" x2="591.2" y2="559.1" stroke="#303030" stroke-width="1.7" />
<line x1="598.8" y1="559.1" x2="629.4" y2="559.1" stroke="#303030" stroke-width="1.7" />
<line x1="568.5" y1="570.2" x2="581.0" y2="570.2" stroke="#303030" stroke-width="1.7" />
<line x1="590.0" y1="570.2" x2="629.4" y2="570.2" stroke="#303030" stroke-width="1.7" />
<line x1="544.6" y1="581.4" x2="581.0" y2="581.4" stroke="#303030" stroke-width="1.7" />
<line x1="590.6" y1="581.4" x2="629.4" y2="581.4" stroke="#303030" stroke-width="1.7" />
<line x1="544.6" y1="590.8" x2="581.0" y2="590.8" stroke="#303030" stroke-width="1.7" />
<polyline points="590.6,590.8 605.4,590.8 605.4,587.0 629.4,587.0" fill="none" stroke="#303030" stroke-width="1.7" />
<line x1="544.6" y1="600.8" x2="581.0" y2="600.8" stroke="#303030" stroke-width="1.7" />
<polyline points="590.6,600.8 616.4,600.8 616.4,591.6 629.4,591.6" fill="none" stroke="#303030" stroke-width="1.7" />
<line x1="581.8" y1="611.2" x2="581.8" y2="611.2" stroke="#303030" stroke-width="1.4" />
<polyline points="590.6,611.2 605.4,611.2 605.4,608.0 629.4,608.0" fill="none" stroke="#303030" stroke-width="1.7" />
<text transform="translate(597.6,559.1) rotate(-90) scale(0.8,1)" font-size="7" fill="#2e2e2e" font-weight="700" text-anchor="middle">O</text>
<text transform="translate(588.8,570.2) rotate(-90) scale(0.75,1)" font-size="9.6" fill="#2e2e2e" font-weight="700" text-anchor="middle">Y</text>
<text transform="translate(589.4,581.4) rotate(-90) scale(0.78,1)" font-size="9.8" fill="#2e2e2e" font-weight="700" text-anchor="middle">B</text>
<text transform="translate(589.4,590.4) rotate(-90) scale(0.78,1)" font-size="9.8" fill="#2e2e2e" font-weight="700" text-anchor="middle">L</text>
<text transform="translate(589.4,599.4) rotate(-90) scale(0.78,1)" font-size="9.8" fill="#2e2e2e" font-weight="700" text-anchor="middle">R</text>
<text transform="translate(589.4,610.8) rotate(-90) scale(0.78,1)" font-size="9.8" fill="#2e2e2e" font-weight="700" text-anchor="middle">R</text>
<path d="M635.7,551.3 H641 L644,556.4 a5.2,4.2 0 0 0 10.5,0 a5.2,4.2 0 0 0 10.5,0 a5.2,4.2 0 0 0 10.5,0 L676.6,555.4 H690.4" fill="none" stroke="#303030" stroke-width="1.4"/>
<line x1="641.6" y1="571.7" x2="681.6" y2="571.7" stroke="#303030" stroke-width="1.2" />
<line x1="641.6" y1="582.2" x2="681.6" y2="582.2" stroke="#303030" stroke-width="1.2" />
<path d="M640,634 V594.4 L644,594.4 a4.6,5 0 0 1 9.2,0 a4.6,5 0 0 1 9.2,0 a4.6,5 0 0 1 9.2,0 a4.6,5 0 0 1 9.2,0 H690.4" fill="none" stroke="#303030" stroke-width="1.4"/>
<polygon points="690.4,551.0 699.8,553.8 699.8,557.0 690.4,559.8" fill="#9a9a9a"/>
<line x1="692.4" y1="551.2" x2="692.4" y2="559.6" stroke="#666" stroke-width="0.8" />
<line x1="694.8" y1="552.0" x2="694.8" y2="558.8" stroke="#666" stroke-width="0.8" />
<line x1="697.2" y1="552.8" x2="697.2" y2="558.0" stroke="#666" stroke-width="0.8" />
<line x1="699.4" y1="553.6" x2="699.4" y2="557.2" stroke="#666" stroke-width="0.8" />
<polygon points="690.4,589.8000000000001 699.8,592.6 699.8,595.8000000000001 690.4,598.6" fill="#9a9a9a"/>
<line x1="692.4" y1="590.0" x2="692.4" y2="598.4" stroke="#666" stroke-width="0.8" />
<line x1="694.8" y1="590.8" x2="694.8" y2="597.6" stroke="#666" stroke-width="0.8" />
<line x1="697.2" y1="591.6" x2="697.2" y2="596.8" stroke="#666" stroke-width="0.8" />
<line x1="699.4" y1="592.4" x2="699.4" y2="596.0" stroke="#666" stroke-width="0.8" />
<line x1="640.0" y1="634.0" x2="652.0" y2="634.0" stroke="#303030" stroke-width="1.4" />
<line x1="670.0" y1="634.0" x2="693.6" y2="634.0" stroke="#303030" stroke-width="1.4" />
<polygon points="651.4,632 657.8,634 651.4,636" fill="#1c1c1c"/>
<polygon points="670.6,632 664.2,634 670.6,636" fill="#1c1c1c"/>
<line x1="693.6" y1="628.0" x2="693.6" y2="640.0" stroke="#303030" stroke-width="1.4" />
<line x1="696.4" y1="630.0" x2="696.4" y2="638.0" stroke="#303030" stroke-width="1.4" />
<line x1="699.2" y1="632.0" x2="699.2" y2="636.0" stroke="#303030" stroke-width="1.4" />
<text transform="translate(710.8,594.4) rotate(-90)" font-size="8.4" fill="#666" textLength="27.4" lengthAdjust="spacingAndGlyphs" text-anchor="start"><tspan fill="#151515" stroke="#151515" stroke-width="0.42000000000000004">i</tspan>gn<tspan fill="#151515" stroke="#151515" stroke-width="0.42000000000000004">i</tspan>t<tspan fill="#151515" stroke="#151515" stroke-width="0.42000000000000004">i</tspan>on</text>
<text transform="translate(710.8,650.6) rotate(-90)" font-size="6.8" fill="#777" textLength="37.0" lengthAdjust="spacingAndGlyphs" text-anchor="start">spark p<tspan fill="#151515" stroke="#151515" stroke-width="0.34">l</tspan>ug</text>
<text transform="translate(708.4,738.6) rotate(-90)" font-size="6.8" fill="#777" textLength="78.0" lengthAdjust="spacingAndGlyphs" text-anchor="start">stepper motor speed</text>
<circle cx="586.2" cy="650.1" r="4" fill="#8a8a8a" stroke="#2a2a2a" stroke-width="1.3"/>
<circle cx="586.2" cy="650.1" r="1.4" fill="#444" stroke="none" stroke-width="0"/>
<line x1="589.8" y1="650.2" x2="600.0" y2="650.2" stroke="#303030" stroke-width="1.4" />
<circle cx="606.2" cy="650.1" r="6.3" fill="none" stroke="#303030" stroke-width="1.3"/>
<line x1="600.0" y1="650.1" x2="605.2" y2="650.1" stroke="#303030" stroke-width="1.2" />
<line x1="605.2" y1="644.6" x2="605.2" y2="655.6" stroke="#303030" stroke-width="1.2" />
<line x1="607.8" y1="646.0" x2="607.8" y2="654.2" stroke="#303030" stroke-width="1.1" />
<line x1="610.2" y1="647.6" x2="610.2" y2="652.6" stroke="#303030" stroke-width="1" />
<circle cx="680.9" cy="688.6" r="13.1" fill="none" stroke="#303030" stroke-width="1.3"/>
<path d="M673,680.4 q1.6,3.6 3.2,2.8 a1.7,2 0 0 1 3.4,0 a1.7,2 0 0 1 3.4,0 a1.7,2 0 0 1 3.4,0 q1.8,0.4 3.8,-1.6" fill="none" stroke="#303030" stroke-width="1.1"/>
<path d="M673,697.2 q1.6,-3.2 3.2,-1.4 a1.7,2 0 0 1 3.4,0 a1.7,2 0 0 1 3.4,0 a1.7,2 0 0 1 3.4,0 q1.8,1.6 3.8,2.6" fill="none" stroke="#303030" stroke-width="1.1"/>
<polyline points="123.7,736.0 123.7,974.0 179.8,974.0 179.8,970.6" fill="none" stroke="#303030" stroke-width="1.4" />
<polyline points="135.3,736.0 135.3,949.8" fill="none" stroke="#303030" stroke-width="1.4" />
<polyline points="149.5,736.0 149.5,927.1 179.8,927.1" fill="none" stroke="#303030" stroke-width="1.4" />
<polyline points="135.3,951.6 138.3,951.6 141.2,953.1 144.2,950.1 147.2,953.1 150.2,950.1 153.1,953.1 156.1,950.1 159.1,953.1 162.0,951.6 165.0,951.6" fill="none" stroke="#303030" stroke-width="1.25" />
<line x1="135.3" y1="949.6" x2="135.3" y2="951.8" stroke="#303030" stroke-width="1.4" />
<polyline points="165.0,950.6 166.1,948.3 168.6,946.7 167.1,943.0 170.9,942.1 169.4,938.4 173.2,937.5 171.6,933.8 175.5,932.9 175.3,929.9 176.4,927.6" fill="none" stroke="#303030" stroke-width="1.25" />
<polyline points="165.0,950.6 166.5,952.6 166.8,955.5 170.6,955.8 169.7,959.6 173.6,959.8 172.7,963.6 176.6,963.9 175.6,967.6 178.3,968.8 179.8,970.8" fill="none" stroke="#303030" stroke-width="1.25" />
<text transform="translate(119.4,845.0) rotate(-90)" font-size="4.9" fill="#222" font-weight="700" textLength="19.0" lengthAdjust="spacingAndGlyphs" stroke="#222" stroke-width="0.3" text-anchor="start">14AWG</text>
<text transform="translate(132.4,845.0) rotate(-90)" font-size="4.9" fill="#222" font-weight="700" textLength="19.0" lengthAdjust="spacingAndGlyphs" stroke="#222" stroke-width="0.3" text-anchor="start">14AWG</text>
<text transform="translate(146.6,845.0) rotate(-90)" font-size="4.9" fill="#222" font-weight="700" textLength="19.0" lengthAdjust="spacingAndGlyphs" stroke="#222" stroke-width="0.3" text-anchor="start">14AWG</text>
<text transform="translate(145.6,1032.4) rotate(-90)" font-size="6.6" fill="#6a6a6a" textLength="37.8" lengthAdjust="spacingAndGlyphs" text-anchor="start">Hoofdspoe<tspan fill="#151515" stroke="#151515" stroke-width="0.33">l</tspan></text>
<line x1="199.9" y1="736.0" x2="199.9" y2="892.4" stroke="#303030" stroke-width="1.4" />
<polyline points="205.5,736.0 205.5,758.9 215.8,758.9 215.8,892.4" fill="none" stroke="#303030" stroke-width="1.4" />
<text transform="translate(203.7,896.0) rotate(-90) scale(0.62,1)" font-size="10" fill="#2e2e2e" font-weight="700" text-anchor="middle">O</text>
<text transform="translate(219.5,896.0) rotate(-90) scale(0.62,1)" font-size="10" fill="#2e2e2e" font-weight="700" text-anchor="middle">O</text>
<path d="M199.9,902.3 V931.2 a3.1,3.03 0 0 0 0,6.07 a3.1,3.03 0 0 0 0,6.07 a3.1,3.03 0 0 0 0,6.07 a3.1,3.03 0 0 0 0,6.07 a3.1,3.03 0 0 0 0,6.07 a3.1,3.03 0 0 0 0,6.07 L200.9,974 H215.8 V902.3" fill="none" stroke="#303030" stroke-width="1.3"/>
<text transform="translate(196.2,847.3) rotate(-90)" font-size="4.9" fill="#222" font-weight="700" textLength="19.0" lengthAdjust="spacingAndGlyphs" stroke="#222" stroke-width="0.3" text-anchor="start">20AWG</text>
<text transform="translate(214.2,847.3) rotate(-90)" font-size="4.9" fill="#222" font-weight="700" textLength="19.0" lengthAdjust="spacingAndGlyphs" stroke="#222" stroke-width="0.3" text-anchor="start">20AWG</text>
<text transform="translate(197.9,1026.2) rotate(-90)" font-size="6.6" fill="#6a6a6a" textLength="31.6" lengthAdjust="spacingAndGlyphs" text-anchor="start">Subspoe<tspan fill="#151515" stroke="#151515" stroke-width="0.33">l</tspan></text>
<path d="M276,889.4 V901.6 a6.7,7.5 0 0 0 0,15 a6.7,7.5 0 0 0 0,15 a6.7,7.5 0 0 0 0,15 a6.7,7.5 0 0 0 0,15 a6.7,7.5 0 0 0 0,15 L277.1,978.8 H292.5 V889.4" fill="none" stroke="#303030" stroke-width="1.4"/>
<polyline points="292.5,873.6 292.5,800.0 313.9,800.0" fill="none" stroke="#303030" stroke-width="1.4" />
<line x1="313.9" y1="794.7" x2="313.9" y2="805.2" stroke="#303030" stroke-width="1.3" />
<line x1="317.1" y1="796.6" x2="317.1" y2="803.4" stroke="#303030" stroke-width="1.1" />
<line x1="319.8" y1="798.4" x2="319.8" y2="801.6" stroke="#303030" stroke-width="1" />
<text transform="translate(279.8,883.6) rotate(-90) scale(0.72,1)" font-size="9.6" fill="#2e2e2e" font-weight="700" text-anchor="middle">R</text>
<text transform="translate(296.3,883.6) rotate(-90) scale(0.72,1)" font-size="9.6" fill="#2e2e2e" font-weight="700" text-anchor="middle">B</text>
<text transform="translate(269.4,858.3) rotate(-90)" font-size="4.9" fill="#222" font-weight="700" textLength="17.4" lengthAdjust="spacingAndGlyphs" stroke="#222" stroke-width="0.3" text-anchor="start">20AWG</text>
<text transform="translate(288.4,856.8) rotate(-90)" font-size="4.9" fill="#222" font-weight="700" textLength="18.8" lengthAdjust="spacingAndGlyphs" stroke="#222" stroke-width="0.3" text-anchor="start">20AWG</text>
<text transform="translate(276.4,1040.0) rotate(-90)" font-size="8.6" fill="#7a7a7a" textLength="37.6" lengthAdjust="spacingAndGlyphs" text-anchor="start"><tspan fill="#151515" stroke="#151515" stroke-width="0.43">I</tspan>gn<tspan fill="#151515" stroke="#151515" stroke-width="0.43">i</tspan>t<tspan fill="#151515" stroke="#151515" stroke-width="0.43">i</tspan>on co<tspan fill="#151515" stroke="#151515" stroke-width="0.43">i</tspan><tspan fill="#151515" stroke="#151515" stroke-width="0.43">l</tspan></text>
<text transform="translate(377.8,863.1) rotate(-90)" font-size="4.9" fill="#222" font-weight="700" textLength="18.9" lengthAdjust="spacingAndGlyphs" stroke="#222" stroke-width="0.3" text-anchor="start">20AWG</text>
<text transform="translate(397.8,861.0) rotate(-90)" font-size="4.9" fill="#222" font-weight="700" textLength="19.0" lengthAdjust="spacingAndGlyphs" stroke="#222" stroke-width="0.3" text-anchor="start">20AWG</text>
<text transform="translate(385.6,1041.4) rotate(-90)" font-size="6.6" fill="#6a6a6a" textLength="29.0" lengthAdjust="spacingAndGlyphs" text-anchor="start">DC-spoe<tspan fill="#151515" stroke="#151515" stroke-width="0.33">l</tspan></text>
<text transform="translate(478.8,980.0) rotate(-90)" font-size="11.4" fill="#5a5a5a" text-anchor="start">B</text>
<text transform="translate(478.8,943.6) rotate(-90)" font-size="11.4" fill="#5a5a5a" text-anchor="start">B<tspan fill="#151515" stroke="#151515" stroke-width="0.5700000000000001">l</tspan>ack</text>
<text transform="translate(492.6,980.0) rotate(-90)" font-size="11.4" fill="#5a5a5a" text-anchor="start">Br</text>
<text transform="translate(492.6,943.6) rotate(-90)" font-size="11.4" fill="#5a5a5a" text-anchor="start">Brown</text>
<text transform="translate(506.4,980.0) rotate(-90)" font-size="11.4" fill="#5a5a5a" text-anchor="start">G</text>
<text transform="translate(506.4,943.6) rotate(-90)" font-size="11.4" fill="#5a5a5a" text-anchor="start">Green</text>
<text transform="translate(520.2,980.0) rotate(-90)" font-size="11.4" fill="#5a5a5a" text-anchor="start">L</text>
<text transform="translate(520.2,943.6) rotate(-90)" font-size="11.4" fill="#5a5a5a" text-anchor="start">B<tspan fill="#151515" stroke="#151515" stroke-width="0.5700000000000001">l</tspan>ue</text>
<text transform="translate(534.0,980.0) rotate(-90)" font-size="11.4" fill="#5a5a5a" text-anchor="start">O</text>
<text transform="translate(534.0,943.6) rotate(-90)" font-size="11.4" fill="#5a5a5a" text-anchor="start">Orange</text>
<text transform="translate(547.8,980.0) rotate(-90)" font-size="11.4" fill="#5a5a5a" text-anchor="start">R</text>
<text transform="translate(547.8,943.6) rotate(-90)" font-size="11.4" fill="#5a5a5a" text-anchor="start">Red</text>
<text transform="translate(561.6,980.0) rotate(-90)" font-size="11.4" fill="#5a5a5a" text-anchor="start">W</text>
<text transform="translate(561.6,943.6) rotate(-90)" font-size="11.4" fill="#5a5a5a" text-anchor="start">Wh<tspan fill="#151515" stroke="#151515" stroke-width="0.5700000000000001">i</tspan>te</text>
<text transform="translate(575.4,980.0) rotate(-90)" font-size="11.4" fill="#5a5a5a" text-anchor="start">Y</text>
<text transform="translate(575.4,943.6) rotate(-90)" font-size="11.4" fill="#5a5a5a" text-anchor="start">Ye<tspan fill="#151515" stroke="#151515" stroke-width="0.5700000000000001">l</tspan><tspan fill="#151515" stroke="#151515" stroke-width="0.5700000000000001">l</tspan>ow</text>
<text transform="translate(589.2,980.0) rotate(-90)" font-size="11.4" fill="#5a5a5a" text-anchor="start">B/W</text>
<text transform="translate(589.2,943.6) rotate(-90)" font-size="11.4" fill="#5a5a5a" text-anchor="start">B<tspan fill="#151515" stroke="#151515" stroke-width="0.5700000000000001">l</tspan>ack/Wh<tspan fill="#151515" stroke="#151515" stroke-width="0.5700000000000001">i</tspan>te</text>
<text transform="translate(603.0,980.0) rotate(-90)" font-size="11.4" fill="#5a5a5a" text-anchor="start">G/Y</text>
<text transform="translate(603.0,943.6) rotate(-90)" font-size="11.4" fill="#5a5a5a" text-anchor="start">Green/Ye<tspan fill="#151515" stroke="#151515" stroke-width="0.5700000000000001">l</tspan><tspan fill="#151515" stroke="#151515" stroke-width="0.5700000000000001">l</tspan>ow</text>
<text transform="translate(616.8,980.0) rotate(-90)" font-size="11.4" fill="#5a5a5a" text-anchor="start">R/W</text>
<text transform="translate(616.8,943.6) rotate(-90)" font-size="11.4" fill="#5a5a5a" text-anchor="start">Red/Wh<tspan fill="#151515" stroke="#151515" stroke-width="0.5700000000000001">i</tspan>te</text>
<text transform="translate(630.6,980.0) rotate(-90)" font-size="11.4" fill="#5a5a5a" text-anchor="start">Gr</text>
<text transform="translate(630.6,943.6) rotate(-90)" font-size="11.4" fill="#5a5a5a" text-anchor="start">Gray</text>
</g>
</svg>
</body></html>
